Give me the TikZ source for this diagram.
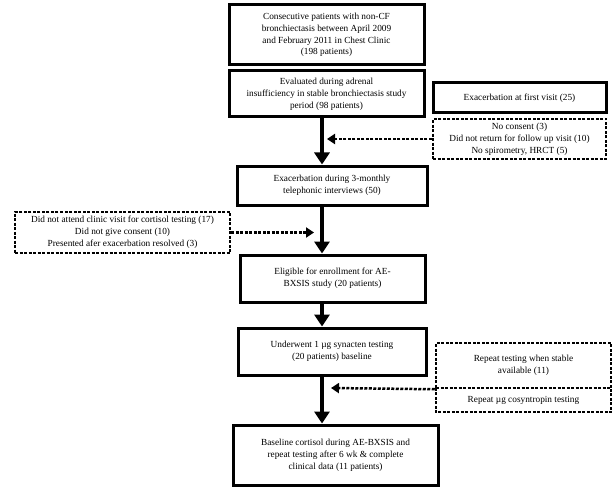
\documentclass[tikz,border=0pt]{standalone}
\usepackage{fontspec}
\setmainfont{Liberation Serif}
\usetikzlibrary{arrows.meta}
\begin{document}
\begin{tikzpicture}[x=1pt,y=-1pt,
  >={Triangle[length=12pt,width=15pt]},
  box/.style={draw, line width=3pt, align=center, inner sep=0pt, font=\fontsize{9.3}{11.8}\selectfont},
  dbox/.style={draw, line width=2.5pt, dash pattern=on 3pt off 1.5pt, align=center, inner sep=0pt, font=\fontsize{9.3}{11.8}\selectfont},
  flow/.style={->, line width=4pt},
  side/.style={-{Triangle[length=8pt,width=10pt]}, line width=2.5pt, dash pattern=on 3pt off 1.5pt}]
\useasboundingbox (0,0) rectangle (614,487);

\node[box, minimum width=195pt, minimum height=60pt] (B1) at (326.5,35) {Consecutive patients with non-CF\\bronchiectasis between April 2009\\and February 2011 in Chest Clinic\\(198 patients)};
\node[box, minimum width=195pt, minimum height=46pt] (B2) at (326.5,94) {Evaluated during adrenal\\insufficiency in stable bronchiectasis study\\period (98 patients)};
\node[box, minimum width=173pt, minimum height=30pt] (R1) at (519.5,98) {Exacerbation at first visit (25)};
\node[dbox, minimum width=173pt, minimum height=40pt] (D1) at (519.5,139) {No consent (3)\\Did not return for follow up visit (10)\\No spirometry, HRCT (5)};
\node[box, minimum width=190pt, minimum height=39pt] (B3) at (332,185.5) {Exacerbation during 3-monthly\\telephonic interviews (50)};
\node[dbox, minimum width=215pt, minimum height=41pt] (D2) at (122.5,232.5) {Did not attend clinic visit for cortisol testing (17)\\Did not give consent (10)\\Presented afer exacerbation resolved (3)};
\node[box, minimum width=185pt, minimum height=47pt] (B4) at (332.5,278.5) {Eligible for enrollment for AE-\\BXSIS study (20 patients)};
\node[box, minimum width=188pt, minimum height=47pt] (B5) at (332,351.5) {Underwent 1 µg synacten testing\\(20 patients) baseline};
\node[dbox, minimum width=175pt, minimum height=45pt] (D3) at (523.5,365.5) {Repeat testing when stable\\available (11)};
\node[align=center, inner sep=0pt, font=\fontsize{9.3}{11.8}\selectfont, minimum width=175pt, minimum height=24pt] (D4) at (523.5,400) {Repeat µg cosyntropin testing};
\draw[line width=2.5pt, dash pattern=on 3pt off 1.5pt] (D4.north west) |- (D4.south east) -- (D4.north east);
\node[box, minimum width=205pt, minimum height=60pt] (B6) at (335.5,455) {Baseline cortisol during AE-BXSIS and\\repeat testing after 6 wk \& complete\\clinical data (11 patients)};

\coordinate (spine) at (322,0);
\coordinate (J1) at (327,139);
\coordinate (J2) at (314,232.5);
\coordinate (J3) at (331,388);

\draw[flow] (B2.south -| spine) -- (B3.north -| spine);
\draw[flow] (B3.south -| spine) -- (B4.north -| spine);
\draw[flow] (B4.south -| spine) -- (B5.north -| spine);
\draw[flow] (B5.south -| spine) -- (B6.north -| spine);

\draw[side] (D1.west) -- (J1);
\draw[side] (D2.east) -- (J2);
\draw[side] (D3.south west) -- (J3);

\end{tikzpicture}
\end{document}
